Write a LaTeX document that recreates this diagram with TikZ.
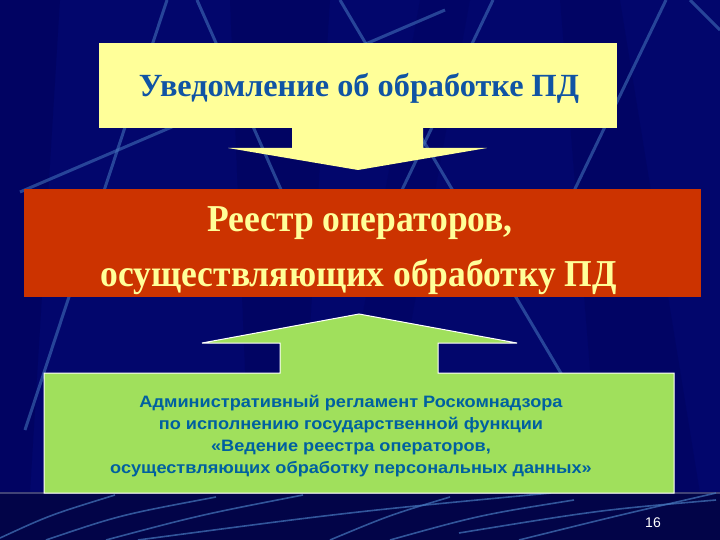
\documentclass[tikz,border=0pt]{standalone}
\usepackage{fontspec}
\setmainfont{Liberation Serif}
\newfontfamily\arialf{Liberation Sans}
\definecolor{navy}{RGB}{2,6,108}
\definecolor{navydark}{RGB}{0,0,80}
\definecolor{floor}{RGB}{2,4,72}
\definecolor{bgline}{RGB}{70,120,190}
\definecolor{yel}{RGB}{255,255,153}
\definecolor{redbox}{RGB}{204,51,0}
\definecolor{grn}{RGB}{160,224,92}
\definecolor{ytext}{RGB}{16,84,164}
\definecolor{gtext}{RGB}{0,96,160}
\begin{document}
\begin{tikzpicture}[x=1pt,y=-1pt,
  bgstroke/.style={draw=bgline,opacity=0.55,line width=3pt},
  floorstroke/.style={draw=bgline,opacity=0.7,line width=1.6pt},
  ybox/.style={fill=yel,draw=none,minimum width=518pt,minimum height=85pt,inner sep=0pt},
  rbox/.style={fill=redbox,draw=none,minimum width=677pt,minimum height=108pt,inner sep=0pt},
  gshape/.style={fill=grn,draw=white,line width=1pt},
  rtext/.style={text=yel,font=\fontsize{38}{46}\selectfont\bfseries,anchor=base},
  ]
\useasboundingbox (0,0) rectangle (720,540);
% background
\fill[navy] (0,0) rectangle (720,540);
\fill[navydark,opacity=0.35] (0,0) -- (60,0) -- (30,493) -- (0,493) -- cycle;
\fill[navydark,opacity=0.3] (230,0) -- (330,0) -- (300,493) -- (250,493) -- cycle;
\fill[navydark,opacity=0.25] (560,0) -- (620,0) -- (700,493) -- (600,493) -- cycle;
\fill[navydark,opacity=0.2] (420,0) -- (470,0) -- (380,493) -- (330,493) -- cycle;
% background strokes
\draw[bgstroke] (167,0) -- (25,430);
\draw[bgstroke] (197,0) -- (290,210);
\draw[bgstroke] (20,192) -- (445,10);
\draw[bgstroke] (493,0) -- (390,215);
\draw[bgstroke] (340,0) -- (565,380);
\draw[bgstroke] (666,0) -- (560,220);
\draw[bgstroke] (690,0) -- (720,30);
% floor
\fill[floor] (0,493) rectangle (720,540);
\draw[gray!50!navy,line width=1.5pt] (0,493) -- (720,493);
\draw[floorstroke] (0,538) .. controls (50,515) .. (115,495);
\draw[floorstroke] (46,540) .. controls (120,515) .. (216,497);
\draw[floorstroke] (106,540) .. controls (200,515) .. (303,495);
\draw[floorstroke] (138,540) .. controls (350,512) .. (551,493);
\draw[floorstroke] (330,540) .. controls (390,515) .. (450,497);
\draw[floorstroke] (390,540) .. controls (480,515) .. (574,500);
\draw[floorstroke] (459,533) .. controls (600,510) .. (716,500);
\draw[floorstroke] (519,540) .. controls (620,515) .. (716,493);
% yellow box and arrow
\node[ybox] (yb) at (358,85.5) {};
\fill[yel] (292,127) -- (423,127) -- (423,148) -- (487,148) -- (358,170) -- (228,148) -- (292,148) -- cycle;
\node[text=ytext,font=\fontsize{32.3}{40}\selectfont\bfseries,anchor=base] (yt) at (359,97) {Уведомление об обработке ПД};
% red box
\node[rbox] (rb) at (362.5,243) {};
\node[rtext] (r1) at (360,231) {\scalebox{0.935}[1]{Реестр операторов,}};
\node[rtext] (r2) at (359,286) {\scalebox{0.935}[1]{осуществляющих обработку ПД}};
% green arrow + box
\draw[gshape] (44,373) -- (280,373) -- (280,343) -- (202,343) -- (359,314) -- (517,343) -- (438,343) -- (438,373) -- (674,373) -- (674,493) -- (44,493) -- cycle;
\node[text=gtext,font=\arialf\fontsize{16.5}{22}\selectfont\bfseries,align=center] (gt) at (351,436) {\scalebox{1.1}[1]{Административный регламент Роскомнадзора}\\\scalebox{1.1}[1]{по исполнению государственной функции}\\\scalebox{1.1}[1]{«Ведение реестра операторов,}\\\scalebox{1.1}[1]{осуществляющих обработку персональных данных»}};
\node[text=white,font=\arialf\fontsize{14}{16}\selectfont] (pn) at (653,523) {16};
\end{tikzpicture}
\end{document}
